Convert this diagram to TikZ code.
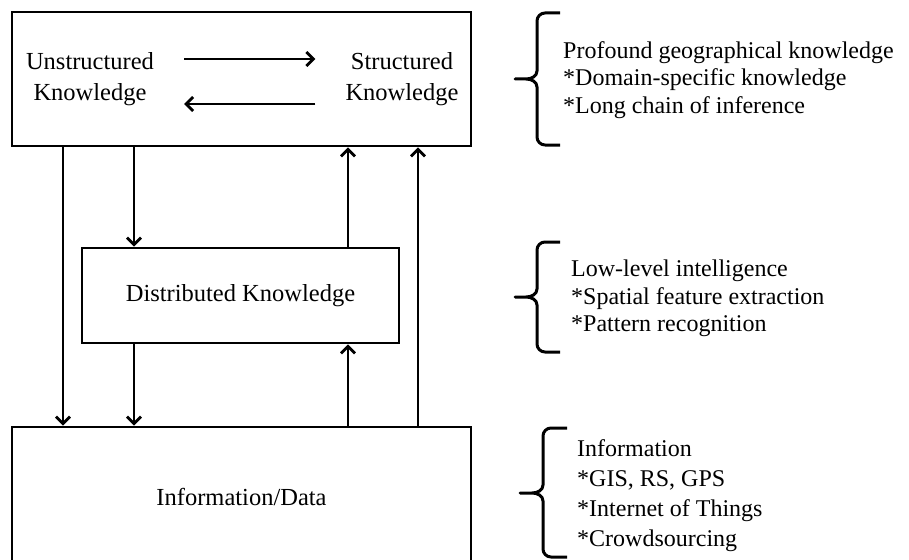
\documentclass[tikz,border=0pt]{standalone}
\usepackage{fontspec}
\setmainfont{Liberation Serif}
\usetikzlibrary{arrows.meta}
\begin{document}
\begin{tikzpicture}[x=1pt,y=1pt]
        %======estilos dos blocos==========%

            \tikzstyle{box}=[rectangle,draw,line width=2.8pt,align=center,font=\fontsize{24.5}{31}\selectfont]
            \tikzstyle{txt}=[align=center,inner xsep=30pt,font=\fontsize{24.5}{31}\selectfont]
            \tikzstyle{note}=[anchor=west,align=left,inner sep=0pt,font=\fontsize{24}{27.5}\selectfont]
            \tikzstyle{edge}=[-{Straight Barb[length=7pt,width=14pt,line width=2.8pt]},line width=2.8pt]
            \tikzstyle{brace}=[line width=3pt,line join=round]

        %====================%%=============%

            \useasboundingbox (0,0) rectangle (909,-559);

            \node[box,minimum width=459pt,minimum height=134pt](top) at (241.5,-79) {};
            \node[box,minimum width=317pt,minimum height=95pt](mid) at (240.5,-295.5) {Distributed Knowledge};
            \node[box,minimum width=459pt,minimum height=140pt](bot) at (241.5,-497) {Information/Data};

            \node[txt](uns) at (90,-79.5) {Unstructured\\Knowledge};
            \node[txt](str) at (402,-79.5) {Structured\\Knowledge};

            \coordinate (c1) at (63,0);
            \coordinate (c2) at (134,0);
            \coordinate (c3) at (348,0);
            \coordinate (c4) at (418,0);

            \draw[edge]([yshift=20.5pt]uns.east) -- ([yshift=20.5pt]str.west);
            \draw[edge]([yshift=-24.5pt]str.west) -- ([yshift=-24.5pt]uns.east);

            \draw[edge](top.south -| c1) -- (bot.north -| c1);
            \draw[edge](top.south -| c2) -- (mid.north -| c2);
            \draw[edge](mid.south -| c2) -- (bot.north -| c2);
            \draw[edge](mid.north -| c3) -- (top.south -| c3);
            \draw[edge](bot.north -| c3) -- (mid.south -| c3);
            \draw[edge](bot.north -| c4) -- (top.south -| c4);

        %======chaves e notas==========%

            \draw[brace](560,-13) -- (545,-13) to[out=180,in=90] (537,-21) -- (537,-71)
                to[out=-90,in=0] (526,-79) -- (515,-79) -- (526,-79) to[out=0,in=90] (537,-87)
                -- (537,-137) to[out=-90,in=180] (545,-145) -- (560,-145);
            \draw[brace](560,-242) -- (545,-242) to[out=180,in=90] (537,-250) -- (537,-289)
                to[out=-90,in=0] (526,-297) -- (515,-297) -- (526,-297) to[out=0,in=90] (537,-305)
                -- (537,-344) to[out=-90,in=180] (545,-352) -- (560,-352);
            \draw[brace](567,-428) -- (551,-428) to[out=180,in=90] (543,-436) -- (543,-485)
                to[out=-90,in=0] (532,-493) -- (520,-493) -- (532,-493) to[out=0,in=90] (543,-501)
                -- (543,-549) to[out=-90,in=180] (551,-557) -- (567,-557);

            \node[note](n1) at (563,-80) {Profound geographical knowledge\\{*}Domain-specific knowledge\\{*}Long chain of inference};
            \node[note](n2) at (571,-298.5) {Low-level intelligence\\{*}Spatial feature extraction\\{*}Pattern recognition};
            \node[note,font=\fontsize{24}{30}\selectfont](n3) at (577,-496) {Information\\{*}GIS, RS, GPS\\{*}Internet of Things\\{*}Crowdsourcing};
        \end{tikzpicture}
\end{document}
